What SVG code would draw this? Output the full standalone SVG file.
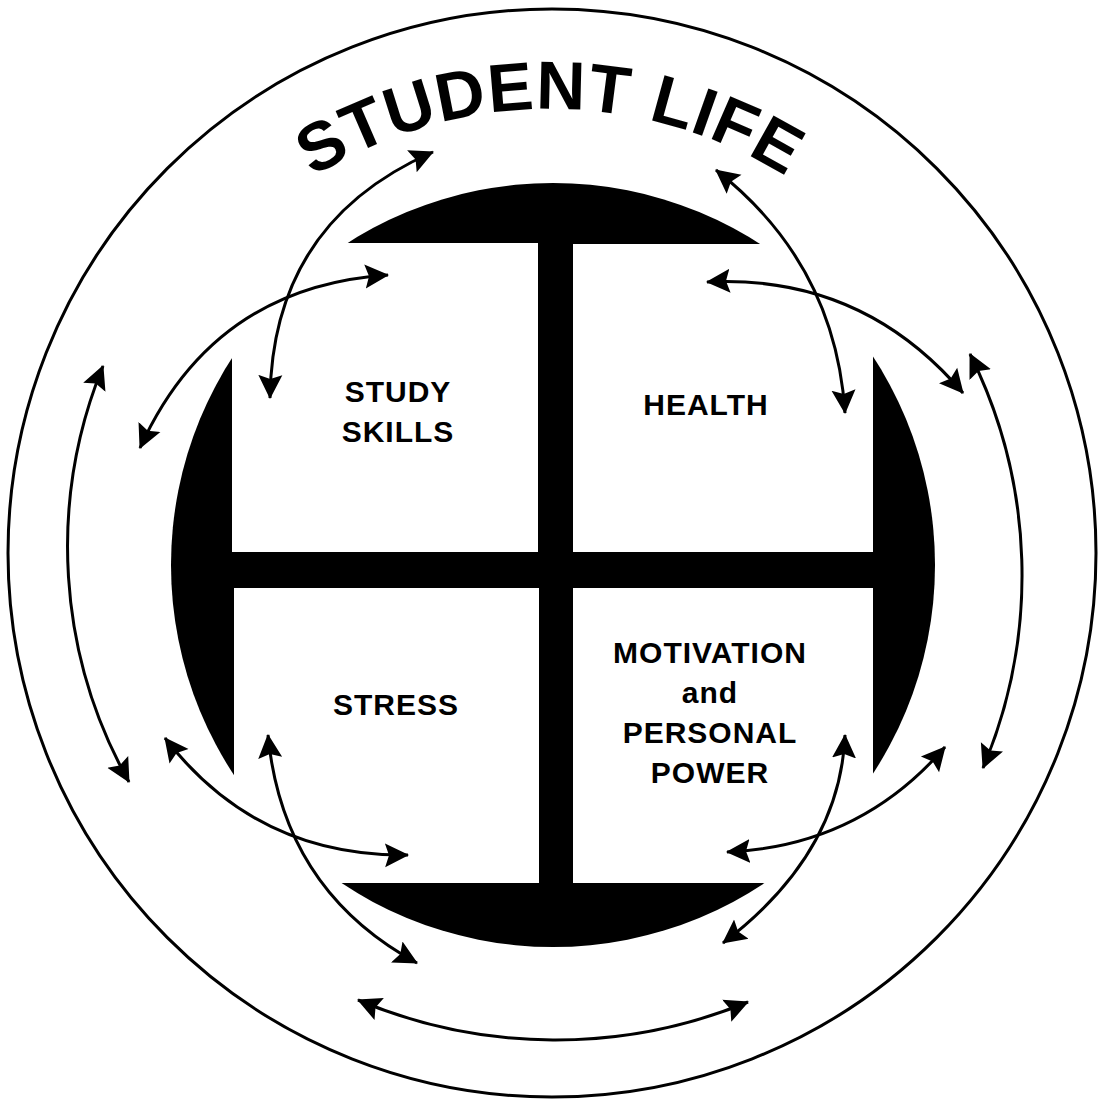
<svg xmlns="http://www.w3.org/2000/svg" width="1105" height="1100" viewBox="0 0 1105 1100">
  <style>
    .ring { fill: none; stroke: #000; stroke-width: 3; }
    .hub { fill: #000; }
    .cell { fill: #fff; }
    .link { fill: none; stroke: #000; stroke-width: 3; marker-start: url(#head); marker-end: url(#head); }
    .label { font-family: "Liberation Sans", Arial, sans-serif; font-weight: bold; font-size: 30px; letter-spacing: 1px; text-anchor: middle; fill: #000; }
    .title { font-family: "Liberation Sans", Arial, sans-serif; font-weight: bold; font-size: 68px; letter-spacing: 1px; fill: #000; }
  </style>
  <defs>
    <marker id="head" markerUnits="userSpaceOnUse" markerWidth="24" markerHeight="26" viewBox="0 0 24 26" refX="23" refY="13" orient="auto-start-reverse">
      <path d="M0,1 L24,13 L0,25 L4,13 Z" fill="#000"/>
    </marker>
    <path id="titleArc" d="M164.6,331.5 A445,445 0 0 1 935.4,331.5"/>
  </defs>

  <rect width="1105" height="1100" fill="#fff"/>

  <!-- outer boundary -->
  <g id="student-life">
    <circle class="ring" cx="552" cy="553" r="544"/>
    <text class="title"><textPath href="#titleArc" startOffset="50%" text-anchor="middle">STUDENT LIFE</textPath></text>
  </g>

  <!-- central disc: four caps joined by a cross -->
  <g id="hub">
    <circle class="hub" cx="553" cy="565" r="382"/>
  </g>

  <g id="study-skills">
    <rect class="cell" x="232" y="243" width="306" height="309"/>
    <text class="label" x="398" y="402">STUDY</text>
    <text class="label" x="398" y="442">SKILLS</text>
  </g>

  <g id="health">
    <rect class="cell" x="573" y="244" width="300" height="308"/>
    <text class="label" x="706" y="415">HEALTH</text>
  </g>

  <g id="stress">
    <rect class="cell" x="234" y="588" width="305" height="295"/>
    <text class="label" x="396" y="715">STRESS</text>
  </g>

  <g id="motivation">
    <rect class="cell" x="573" y="588" width="300" height="295"/>
    <text class="label" x="710" y="663">MOTIVATION</text>
    <text class="label" x="710" y="703">and</text>
    <text class="label" x="710" y="743">PERSONAL</text>
    <text class="label" x="710" y="783">POWER</text>
  </g>

  <!-- two-way arrows -->
  <g id="connectors">
    <path class="link" d="M270,398 Q272.5,222 433,152"/>
    <path class="link" d="M388,275 Q213,286.5 140,448"/>
    <path class="link" d="M103,366 A480,480 0 0 0 129,782"/>
    <path class="link" d="M165,738 Q256.7,857.1 408,855"/>
    <path class="link" d="M268,735 Q282.7,890 417,963"/>
    <path class="link" d="M358,1000 A507,507 0 0 0 748,1002"/>
    <path class="link" d="M845,735 Q840,854.2 723,943"/>
    <path class="link" d="M727,852 Q859.2,846.5 945,747"/>
    <path class="link" d="M970,354 A496,496 0 0 1 983,768"/>
    <path class="link" d="M707,282 Q861.6,274.1 963,393"/>
    <path class="link" d="M716,170 Q835.3,263.7 845,413"/>
  </g>
</svg>
